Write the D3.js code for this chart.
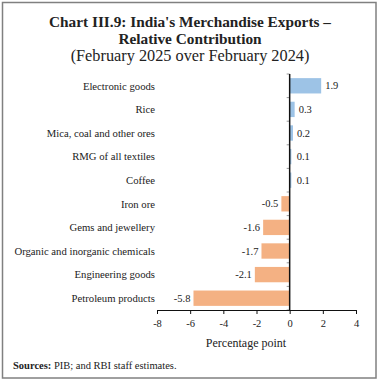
<!DOCTYPE html>
<html>
<head>
<meta charset="utf-8">
<script src="https://cdn.jsdelivr.net/npm/d3@7"></script>
<style>
  body { margin: 0; background: #fff; }
  svg { display: block; }
</style>
</head>
<body>
<div id="chart"></div>
<script>
const categories = ["Electronic goods", "Rice", "Mica, coal and other ores", "RMG of all textiles",
    "Coffee", "Iron ore", "Gems and jewellery", "Organic and inorganic chemicals",
    "Engineering goods", "Petroleum products"]
const values = [1.9, 0.3, 0.2, 0.1, 0.1, -0.5, -1.6, -1.7, -2.1, -5.8]
const xTicks = [-8, -6, -4, -2, 0, 2, 4]

const width = 380, height = 383
const font = "'Liberation Serif', 'Times New Roman', serif"

const svg = d3.select("#chart")
    .append("svg")
    .attr("width", width)
    .attr("height", height)

// outer frame
svg.append("rect")
    .attr("x", 2.5).attr("y", 2.5)
    .attr("width", 373.5).attr("height", 375.5)
    .attr("fill", "none")
    .attr("stroke", "#808080")
    .attr("stroke-width", 1.5)

// title
const title = svg.append("text")
    .attr("text-anchor", "middle")
    .attr("font-family", font)
    .attr("fill", "#222")
title.append("tspan").attr("x", 190).attr("y", 27)
    .attr("font-size", "15.3px").attr("font-weight", "bold")
    .text("Chart III.9: India's Merchandise Exports \u2013")
title.append("tspan").attr("x", 190).attr("y", 44)
    .attr("font-size", "15.3px").attr("font-weight", "bold")
    .text("Relative Contribution")
title.append("tspan").attr("x", 190).attr("y", 61)
    .attr("font-size", "16.3px")
    .text("(February 2025 over February 2024)")

const x = d3.scaleLinear().domain([-8, 4]).range([157, 356])
const y = d3.scaleBand().domain(categories).range([74, 310])
    .paddingInner(0.35).paddingOuter(0.175)

// bars
svg.selectAll("rect.bar")
    .data(values)
    .enter()
    .append("rect")
    .attr("class", "bar")
    .attr("x", d => x(Math.min(0, d)))
    .attr("y", (d, i) => y(categories[i]))
    .attr("width", d => Math.abs(x(d) - x(0)))
    .attr("height", y.bandwidth())
    .attr("fill", d => d >= 0 ? "#9dc3e6" : "#f4b183")

// value labels
svg.selectAll("text.val")
    .data(values)
    .enter()
    .append("text")
    .attr("class", "val")
    .attr("x", d => d >= 0 ? Math.max(x(d) + 4, x(0) + 7) : x(d) - 3)
    .attr("y", (d, i) => y(categories[i]) + y.bandwidth() / 2)
    .attr("dy", "0.35em")
    .attr("text-anchor", d => d >= 0 ? "start" : "end")
    .attr("font-family", font)
    .attr("font-size", "10.5px")
    .attr("fill", "#222")
    .text(d => d.toFixed(1))

// category labels
svg.selectAll("text.cat")
    .data(categories)
    .enter()
    .append("text")
    .attr("class", "cat")
    .attr("x", 155)
    .attr("y", d => y(d) + y.bandwidth() / 2)
    .attr("dy", "0.35em")
    .attr("text-anchor", "end")
    .attr("font-family", font)
    .attr("font-size", "10.7px")
    .attr("fill", "#222")
    .text(d => d)

// y axis with ticks at band boundaries
const [y0, y1] = y.range()
svg.selectAll("line.ytick")
    .data(d3.range(categories.length + 1))
    .enter()
    .append("line")
    .attr("class", "ytick")
    .attr("x1", x(0) - 3).attr("x2", x(0))
    .attr("y1", i => y0 + i * y.step())
    .attr("y2", i => y0 + i * y.step())
    .attr("stroke", "#999")
    .attr("stroke-width", 1)

svg.append("line")
    .attr("x1", x(0)).attr("x2", x(0))
    .attr("y1", y0).attr("y2", y1)
    .attr("stroke", "#111")
    .attr("stroke-width", 1.5)

// x axis
const xAxis = svg.append("g")
    .attr("transform", `translate(0,${y1})`)
    .call(d3.axisBottom(x).tickValues(xTicks).tickSize(4).tickSizeOuter(0)
        .tickFormat(d => String(d)))
xAxis.select(".domain").attr("stroke", "#111").attr("stroke-width", 1.2)
xAxis.selectAll(".tick line").attr("stroke", "#111")
xAxis.selectAll(".tick text")
    .attr("font-family", font)
    .attr("font-size", "10.5px")
    .attr("fill", "#222")
    .attr("dy", "0.95em")

svg.append("text")
    .attr("x", 246).attr("y", 347)
    .attr("text-anchor", "middle")
    .attr("font-family", font)
    .attr("font-size", "12px")
    .attr("fill", "#222")
    .text("Percentage point")

// source note
const src = svg.append("text")
    .attr("x", 13).attr("y", 369)
    .attr("font-family", font)
    .attr("font-size", "10.5px")
    .attr("fill", "#222")
src.append("tspan").attr("font-weight", "bold").text("Sources: ")
src.append("tspan").text("PIB; and RBI staff estimates.")
</script>
</body>
</html>
